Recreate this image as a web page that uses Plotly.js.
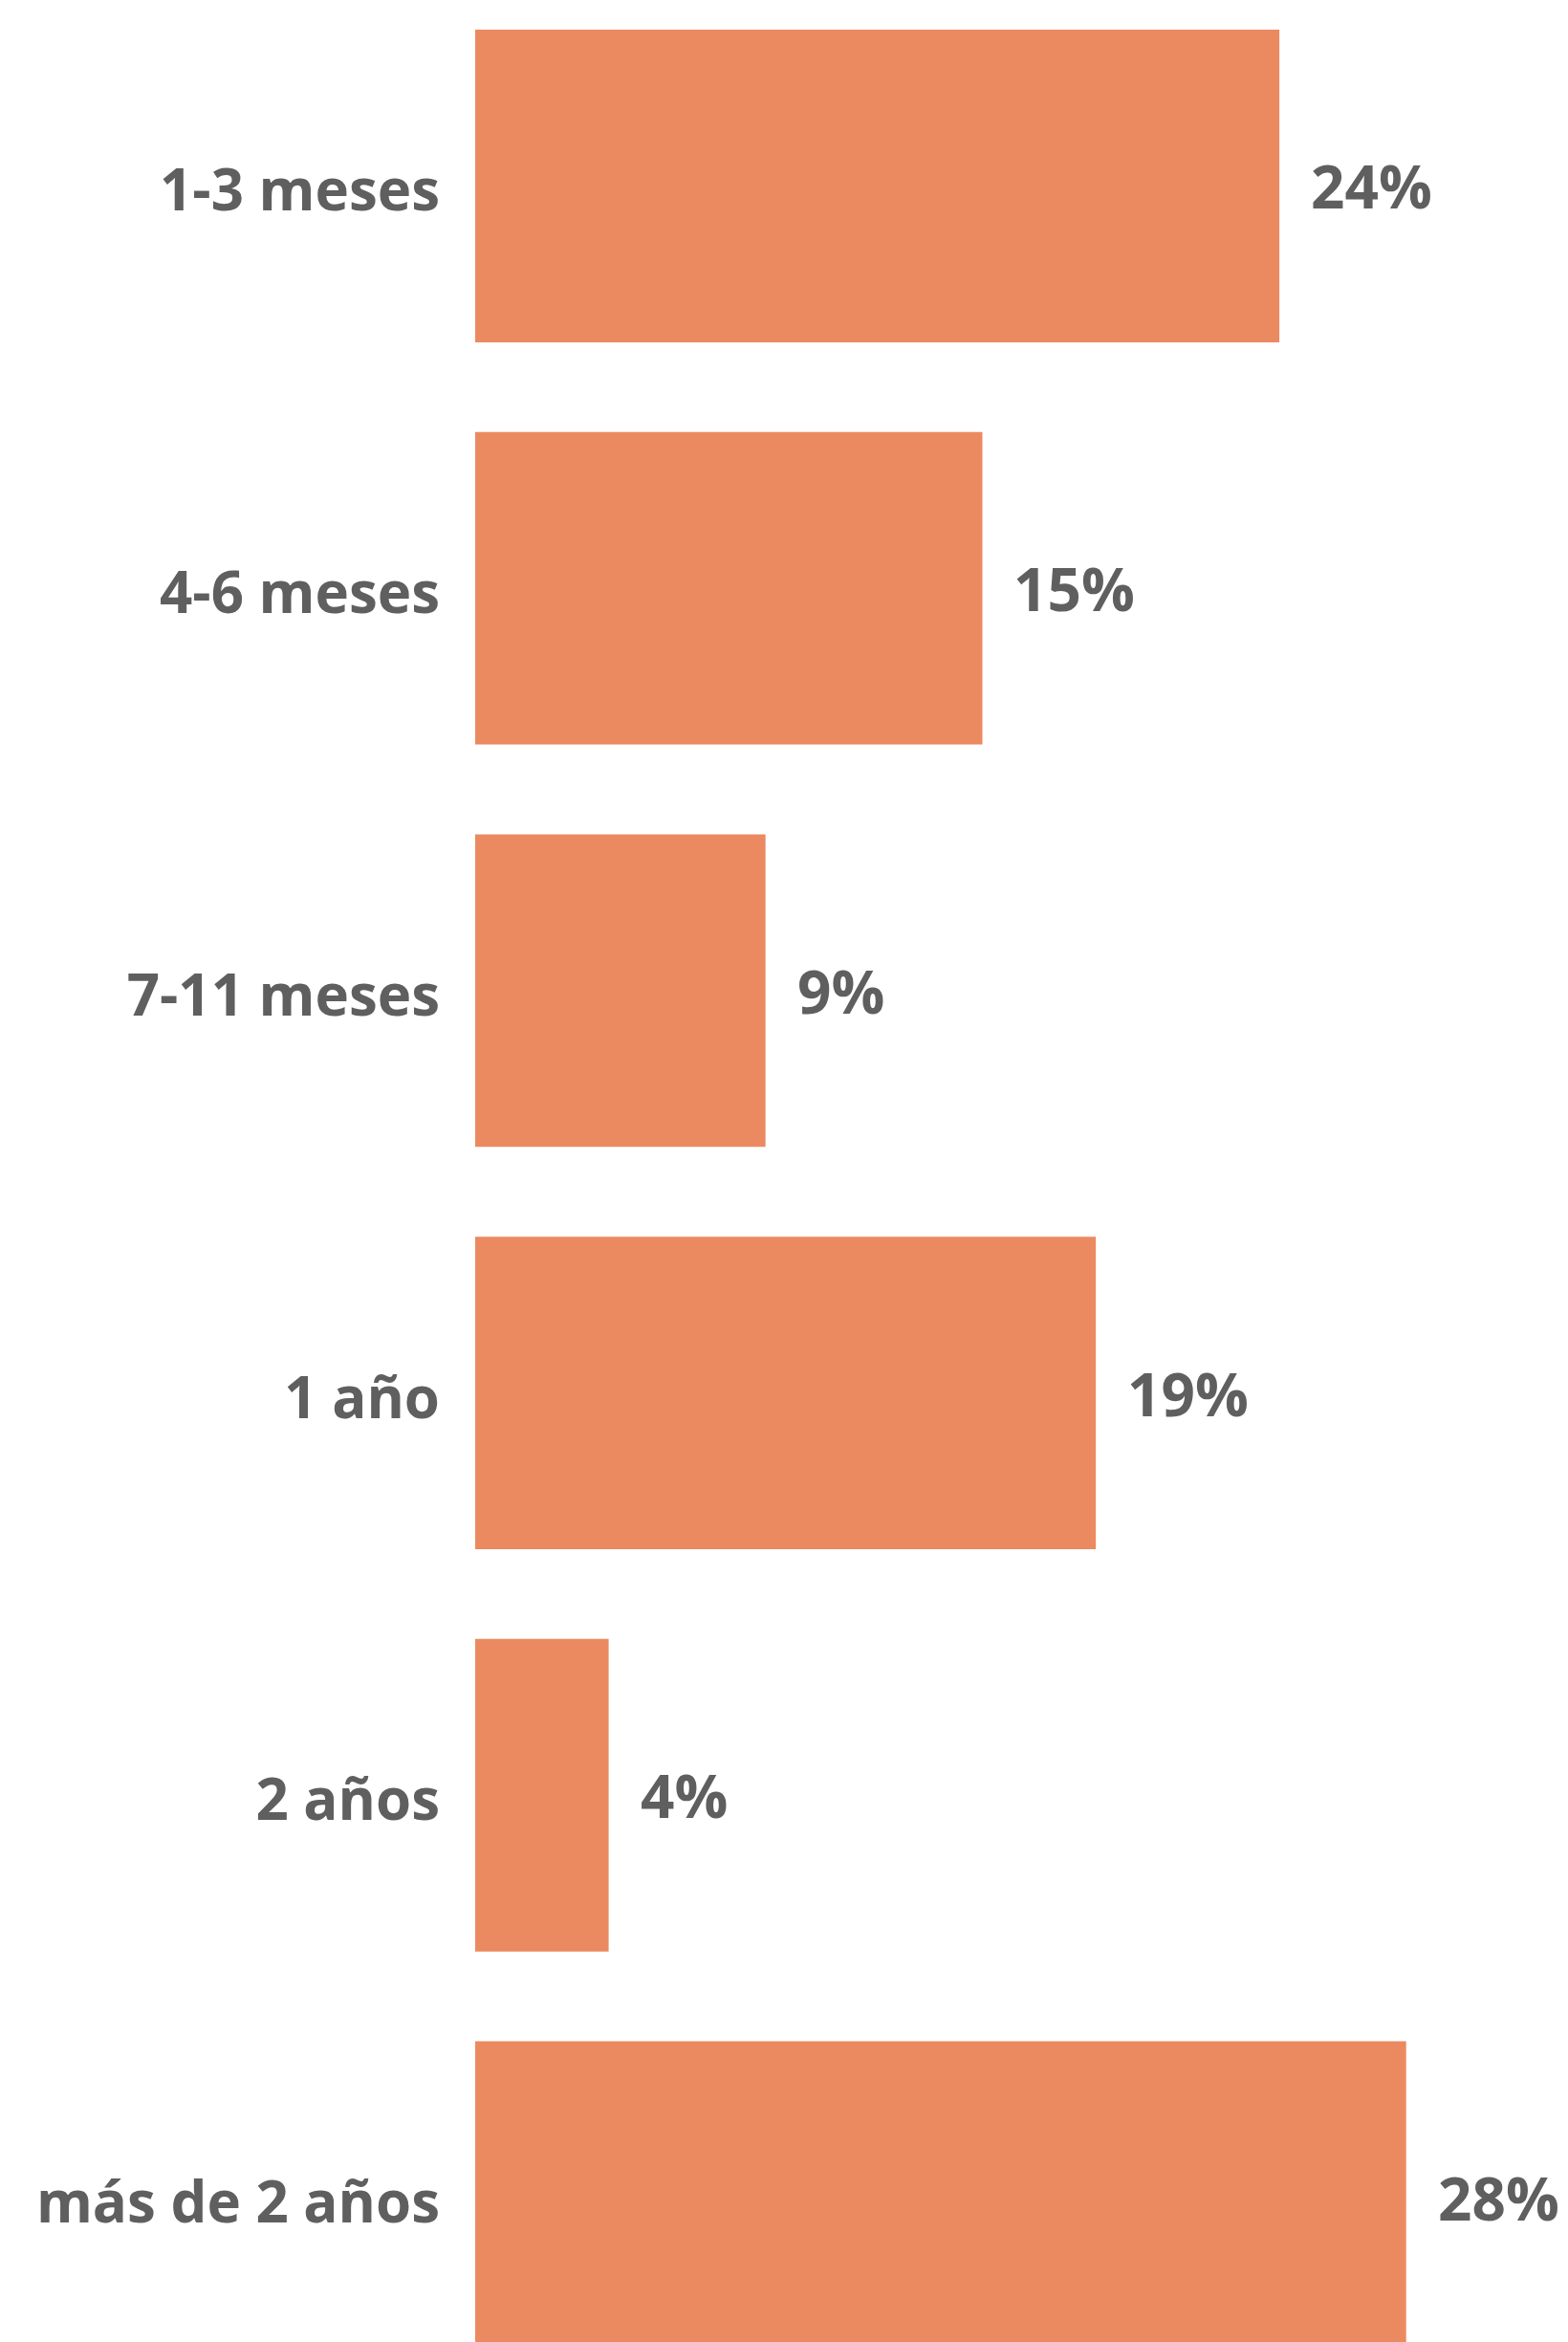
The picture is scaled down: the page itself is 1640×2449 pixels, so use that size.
<!DOCTYPE html>
<html>
<head>
<meta charset="utf-8">
<script src="https://cdn.plot.ly/plotly-3.0.1.min.js"></script>
<style>html,body{margin:0;padding:0;background:#fff;}#chart{width:1640px;height:2449px;}</style>
</head>
<body>
<div id="chart"></div>
<script>
const categories = ["1-3 meses", "4-6 meses", "7-11 meses", "1 año", "2 años", "más de 2 años"];
const values = [24.1, 15.2, 8.7, 18.6, 4.0, 27.9];
const valueLabels = ["24%", "15%", "9%", "19%", "4%", "28%"];

const textColor = "#5f5f5f";
const fontFamily = "'Open Sans', 'Noto Sans', sans-serif";

const trace = {
  type: "bar",
  orientation: "h",
  x: values,
  y: categories,
  marker: { color: "#EB8A60", line: { width: 0 } },
  hoverinfo: "skip",
  cliponaxis: true
};

const annotations = categories.map((c, i) => ({
  x: values[i],
  y: c,
  xref: "x",
  yref: "y",
  text: valueLabels[i],
  showarrow: false,
  xanchor: "left",
  yanchor: "middle",
  xshift: 31,
  font: { family: fontFamily, size: 62, color: textColor, weight: 700 }
}));

const layout = {
  width: 1640,
  height: 2449,
  margin: { l: 497, r: 0, t: 0, b: 0, pad: 0 },
  paper_bgcolor: "#ffffff",
  plot_bgcolor: "#ffffff",
  showlegend: false,
  bargap: 0.223,
  xaxis: {
    range: [0, 32.75],
    showgrid: false,
    zeroline: false,
    showline: false,
    showticklabels: false,
    ticks: ""
  },
  yaxis: {
    type: "category",
    range: [5.359, -0.4623],
    showgrid: false,
    zeroline: false,
    showline: false,
    ticks: "",
    ticklabelstandoff: 36,
    ticklabelshift: -5,
    tickfont: { family: fontFamily, size: 60, color: textColor, weight: 700 }
  },
  annotations: annotations
};

Plotly.newPlot("chart", [trace], layout, { staticPlot: true, displayModeBar: false });
</script>
</body>
</html>
